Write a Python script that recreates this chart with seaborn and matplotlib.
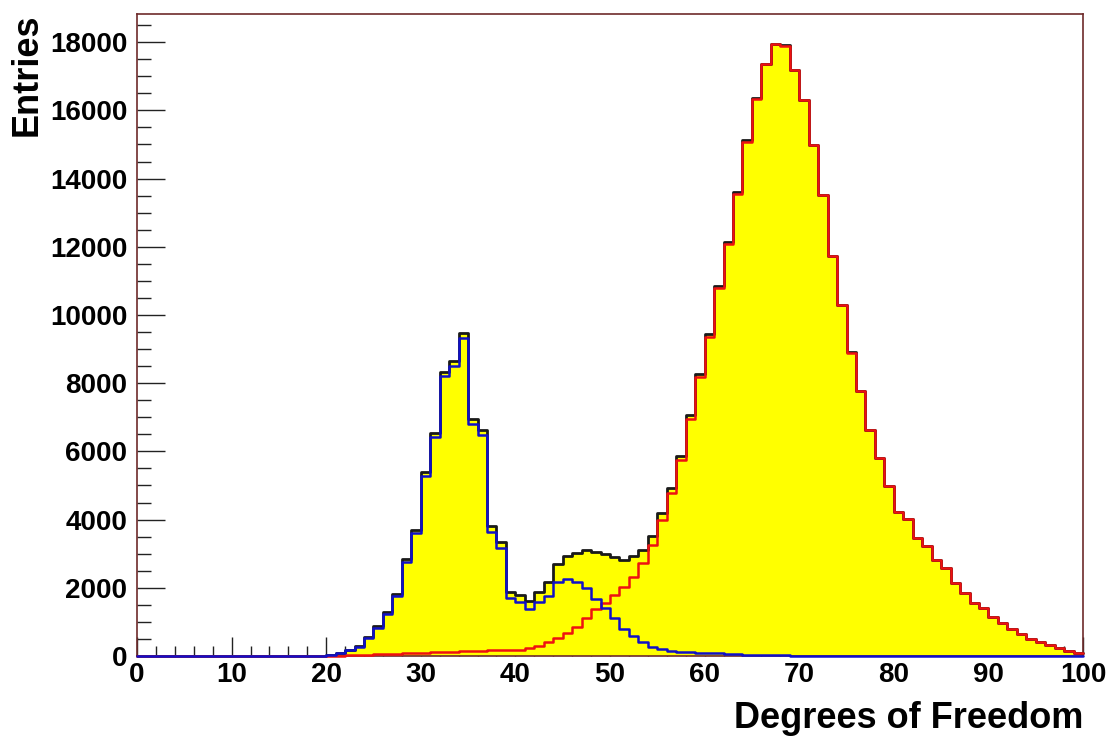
import numpy as np
import pandas as pd
import matplotlib
matplotlib.use("Agg")
import matplotlib.pyplot as plt
from matplotlib.ticker import MultipleLocator
import seaborn as sns

# ---- data (100 bins of width 1 from 0 to 100) ----
bin_edges = list(range(0, 101))

blue_counts = [0] * 20 + [
    20, 100, 170, 270, 520, 830, 1220, 1760, 2750, 3600,        # 20-29
    5290, 6430, 8210, 8510, 9330, 6810, 6480, 3640, 3180, 1705,  # 30-39
    1590, 1370, 1590, 1760, 2180, 2265, 2170, 2005, 1670, 1415,  # 40-49
    1115, 792, 600, 400, 270, 205, 155, 130, 115, 100,           # 50-59
    90, 80, 70, 55, 40, 30, 25, 20, 15, 12,                      # 60-69
    10, 8, 6, 5, 4, 3, 3, 2, 2, 1,                               # 70-79
] + [0] * 20

red_counts = [0] * 22 + [
    20, 30, 40, 50, 60, 70, 80, 90,                              # 22-29
    100, 110, 120, 130, 140, 150, 160, 165, 170, 175,            # 30-39
    190, 230, 300, 420, 520, 665, 860, 1105, 1370, 1565,         # 40-49
    1780, 2025, 2320, 2720, 3260, 3990, 4780, 5740, 6940, 8170,  # 50-59
    9340, 10780, 12070, 13550, 15080, 16330, 17345, 17935, 17900, 17180,  # 60-69
    16300, 14985, 13520, 11730, 10295, 8897, 7782, 6629, 5798, 4987,      # 70-79
    4235, 4010, 3452, 3227, 2817, 2572, 2132, 1839, 1545, 1398,  # 80-89
    1154, 958, 792, 636, 489, 401, 323, 225, 156, 98,            # 90-99
]

x_label = "Degrees of Freedom"
y_label = "Entries"

# ---- build table ----
centers = np.arange(100) + 0.5
df = pd.DataFrame({
    "dof": centers,
    "blue": blue_counts,
    "red": red_counts,
})
df["total"] = df["blue"] + df["red"]

# ---- style ----
sns.set_style("white")
plt.rcParams["font.family"] = ["Liberation Sans", "DejaVu Sans"]
plt.rcParams["font.weight"] = "bold"
plt.rcParams["text.color"] = "black"
plt.rcParams["axes.labelcolor"] = "black"

fig = plt.figure(figsize=(11.2, 7.42), dpi=100)
ax = fig.add_axes([0.1223, 0.1159, 0.967 - 0.1223, 0.9818 - 0.1159])

common = dict(x="dof", bins=bin_edges, element="step", ax=ax)

sns.histplot(data=df, weights="total", fill=True, color="#ffff00", alpha=1.0,
             linewidth=0, **common)
sns.histplot(data=df, weights="total", fill=False, color="#1a1a1a",
             linewidth=2.0, **common)
sns.histplot(data=df, weights="red", fill=False, color="#ee1111",
             linewidth=1.8, **common)
sns.histplot(data=df, weights="blue", fill=False, color="#1010c8",
             linewidth=1.8, **common)

for i, ln in enumerate(ax.lines):
    ln.set_clip_on(False)
    ln.set_zorder(3 + i)

ax.set_xlim(0, 100)
ax.set_ylim(0, 18840)

ax.xaxis.set_major_locator(MultipleLocator(10))
ax.xaxis.set_minor_locator(MultipleLocator(2))
ax.yaxis.set_major_locator(MultipleLocator(2000))
ax.yaxis.set_minor_locator(MultipleLocator(500))

ax.tick_params(axis="x", which="major", direction="in", length=14, width=1.0,
               colors="#222222", labelsize=20, pad=4, top=False, bottom=True)
ax.tick_params(axis="x", which="minor", direction="in", length=7, width=1.0,
               colors="#222222", top=False, bottom=True)
ax.tick_params(axis="y", which="major", direction="in", length=20, width=1.0,
               colors="#222222", labelsize=20, pad=7, left=True, right=False)
ax.tick_params(axis="y", which="minor", direction="in", length=10, width=1.0,
               colors="#222222", left=True, right=False)
for lab in ax.get_xticklabels() + ax.get_yticklabels():
    lab.set_fontweight("bold")
    lab.set_color("black")

for sp in ax.spines.values():
    sp.set_visible(True)
    sp.set_color("#6e2b2b")
    sp.set_linewidth(1.2)

ax.set_xlabel(x_label, fontsize=26, fontweight="bold", loc="right",
              labelpad=10, color="black")
ax.set_ylabel(y_label, fontsize=26, fontweight="bold", loc="top",
              labelpad=4, color="black")

fig.savefig("out.png", dpi=100)
